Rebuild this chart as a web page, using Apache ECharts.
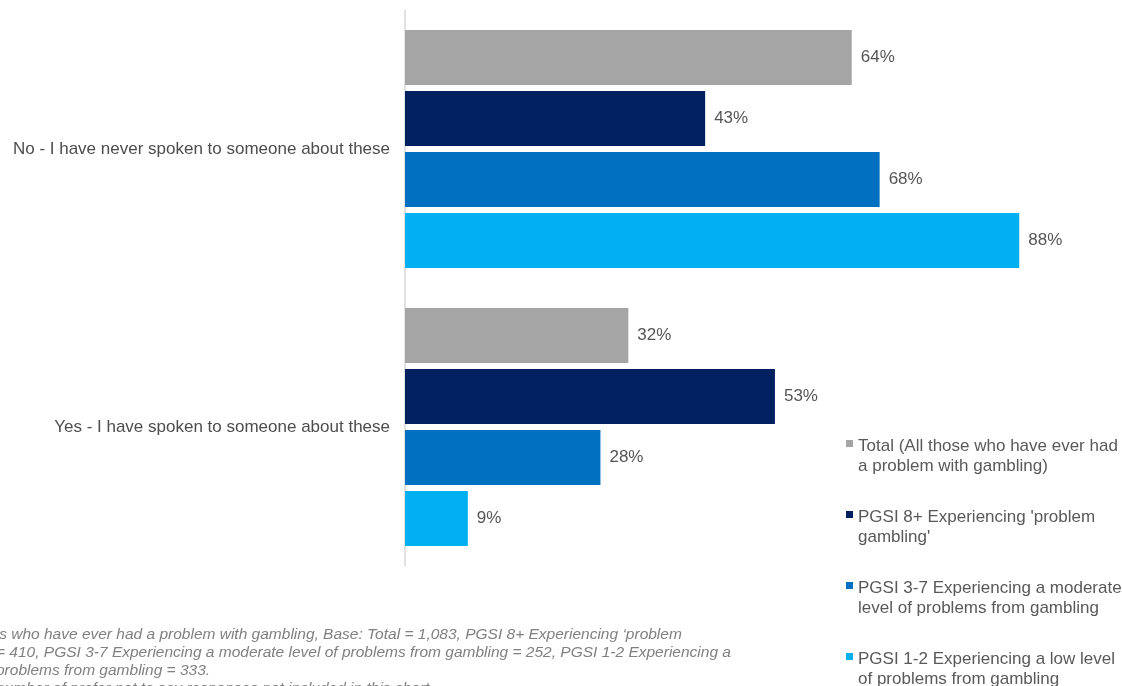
<!DOCTYPE html>
<html>
<head>
<meta charset="utf-8">
<script src="https://cdn.jsdelivr.net/npm/echarts@6/dist/echarts.min.js"></script>
<style>
html,body{margin:0;padding:0;background:#fff;}
#chart{width:1122px;height:686px;}
</style>
</head>
<body>
<div id="chart"></div>
<script>
const categories = ['No - I have never spoken to someone about these', 'Yes - I have spoken to someone about these'];
const seriesNames = [
  'Total (All those who have ever had\na problem with gambling)',
  "PGSI 8+ Experiencing 'problem\ngambling'",
  'PGSI 3-7 Experiencing a moderate\nlevel of problems from gambling',
  'PGSI 1-2 Experiencing a low level\nof problems from gambling'
];
const totalValues = [64, 32];
const pgsi8Values = [43, 53];
const pgsi37Values = [68, 28];
const pgsi12Values = [88, 9];
const colors = ['#A5A5A5', '#002060', '#0070C0', '#00B0F0'];
const footnoteLines = [
  "\u2019s who have ever had a problem with gambling, Base: Total = 1,083, PGSI 8+ Experiencing \u2018problem",
  "= 410, PGSI 3-7 Experiencing a moderate level of problems from gambling = 252, PGSI 1-2 Experiencing a",
  "problems from gambling = 333.",
  "number of prefer not to say responses not included in this chart."
];

const allValues = [totalValues, pgsi8Values, pgsi37Values, pgsi12Values];
const font = "'Liberation Sans', Arial, sans-serif";
const iconPath = 'path://M0,0L0.01,0L0.01,0.01Z M0,4L7,4L7,11L0,11Z M0,40L0.01,40L0.01,39.99Z';

const chart = echarts.init(document.getElementById('chart'), null, {renderer: 'canvas'});
chart.setOption({
  animation: false,
  backgroundColor: '#ffffff',
  grid: {left: 405, top: 10, width: 698, height: 556, containLabel: false},
  xAxis: {
    type: 'value', min: 0, max: 100, show: false
  },
  yAxis: {
    type: 'category', data: categories, inverse: true,
    axisLine: {show: true, lineStyle: {color: '#D9D9D9', width: 1.5}},
    axisTick: {show: false},
    axisLabel: {margin: 15, fontSize: 17, color: '#4d4d4d', fontFamily: font}
  },
  legend: {
    orient: 'vertical', left: 846, top: 436, height: 320, width: 300,
    padding: 0,
    itemWidth: 7, itemHeight: 40, itemGap: 31,
    icon: iconPath,
    textStyle: {fontSize: 17, color: '#595959', fontFamily: font, lineHeight: 20},
    data: seriesNames
  },
  graphic: [{
    type: 'text', left: -4, top: 626,
    style: {
      text: footnoteLines.join('\n'),
      font: "italic 15.5px 'Liberation Sans', Arial, sans-serif",
      fill: '#808080', lineHeight: 18
    }
  }],
  series: seriesNames.map((name, i) => ({
    name: name,
    type: 'bar',
    data: allValues[i],
    barWidth: 55,
    barGap: '11%',
    itemStyle: {color: colors[i]},
    label: {
      show: true, position: 'right', distance: 9,
      formatter: '{c}%', fontSize: 17, color: '#555555', fontFamily: font
    }
  }))
});
</script>
</body>
</html>
